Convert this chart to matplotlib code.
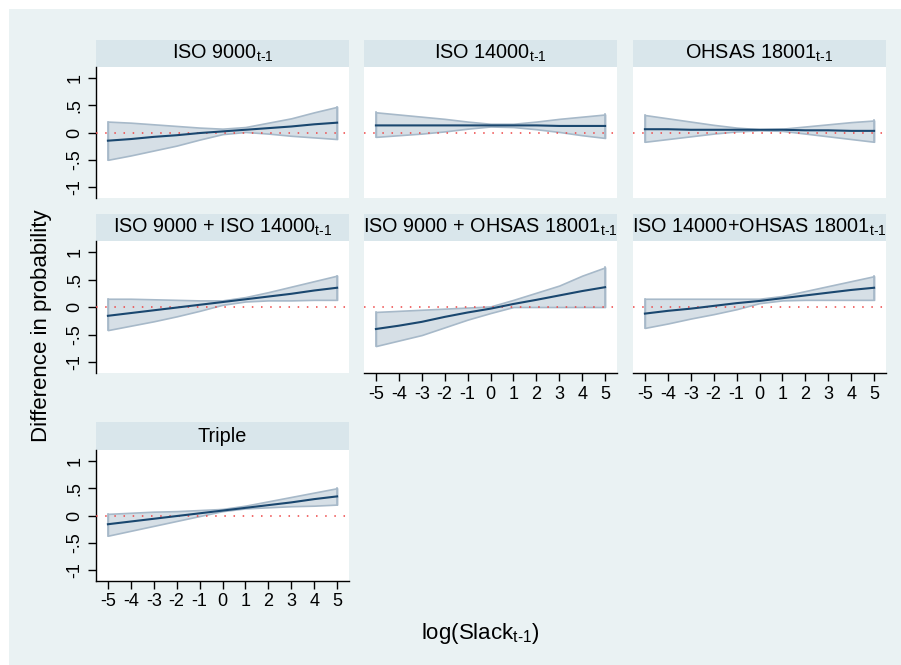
import matplotlib
matplotlib.use("Agg")
import matplotlib.pyplot as plt
from matplotlib.patches import Rectangle

plt.rcParams["font.family"] = ["Liberation Sans", "DejaVu Sans"]
plt.rcParams["mathtext.fontset"] = "custom"
plt.rcParams["mathtext.rm"] = "Liberation Sans"
plt.rcParams["mathtext.it"] = "Liberation Sans"

# log(Slack) grid
slack = [-5, -4, -3, -2, -1, 0, 1, 2, 3, 4, 5]

titles = [
    r"ISO 9000$_{\mathrm{t\text{-}1}}$",
    r"ISO 14000$_{\mathrm{t\text{-}1}}$",
    r"OHSAS 18001$_{\mathrm{t\text{-}1}}$",
    r"ISO 9000 + ISO 14000$_{\mathrm{t\text{-}1}}$",
    r"ISO 9000 + OHSAS 18001$_{\mathrm{t\text{-}1}}$",
    r"ISO 14000+OHSAS 18001$_{\mathrm{t\text{-}1}}$",
    "Triple",
]

# Estimated difference in probability and 95% CI bounds
est_iso9000 = [-0.15, -0.12, -0.08, -0.05, -0.01, 0.02, 0.05, 0.08, 0.11, 0.15, 0.18]
hi_iso9000 = [0.20, 0.18, 0.15, 0.12, 0.09, 0.07, 0.10, 0.18, 0.26, 0.37, 0.47]
lo_iso9000 = [-0.50, -0.42, -0.33, -0.24, -0.13, -0.03, 0.01, -0.02, -0.06, -0.09, -0.12]

est_iso14000 = [0.13, 0.13, 0.13, 0.13, 0.13, 0.13, 0.13, 0.13, 0.12, 0.12, 0.12]
hi_iso14000 = [0.37, 0.33, 0.29, 0.25, 0.20, 0.16, 0.16, 0.20, 0.25, 0.29, 0.33]
lo_iso14000 = [-0.08, -0.05, -0.02, 0.02, 0.07, 0.11, 0.10, 0.06, 0.01, -0.05, -0.10]

est_ohsas = [0.06, 0.06, 0.05, 0.05, 0.05, 0.05, 0.05, 0.04, 0.04, 0.03, 0.03]
hi_ohsas = [0.32, 0.26, 0.20, 0.14, 0.09, 0.06, 0.07, 0.11, 0.15, 0.19, 0.22]
lo_ohsas = [-0.17, -0.12, -0.07, -0.02, 0.02, 0.04, 0.03, -0.02, -0.07, -0.12, -0.17]

est_9000_14000 = [-0.16, -0.11, -0.06, -0.01, 0.04, 0.09, 0.14, 0.19, 0.24, 0.30, 0.35]
hi_9000_14000 = [0.15, 0.15, 0.14, 0.13, 0.12, 0.12, 0.18, 0.27, 0.37, 0.47, 0.57]
lo_9000_14000 = [-0.42, -0.34, -0.26, -0.17, -0.07, 0.04, 0.10, 0.12, 0.12, 0.13, 0.13]

est_9000_ohsas = [-0.40, -0.34, -0.27, -0.18, -0.10, -0.03, 0.055, 0.13, 0.21, 0.29, 0.36]
hi_9000_ohsas = [-0.09, -0.07, -0.05, -0.03, -0.01, 0.01, 0.13, 0.26, 0.39, 0.57, 0.72]
lo_9000_ohsas = [-0.71, -0.61, -0.51, -0.37, -0.23, -0.11, 0.0, 0.0, 0.0, 0.0, 0.0]

est_14000_ohsas = [-0.12, -0.07, -0.03, 0.02, 0.07, 0.11, 0.16, 0.21, 0.26, 0.31, 0.35]
hi_14000_ohsas = [0.15, 0.15, 0.15, 0.15, 0.15, 0.15, 0.20, 0.29, 0.38, 0.47, 0.56]
lo_14000_ohsas = [-0.38, -0.30, -0.21, -0.13, -0.04, 0.07, 0.12, 0.13, 0.13, 0.13, 0.13]

est_triple = [-0.16, -0.11, -0.06, -0.01, 0.04, 0.09, 0.14, 0.19, 0.24, 0.30, 0.35]
hi_triple = [0.03, 0.05, 0.07, 0.08, 0.10, 0.12, 0.18, 0.26, 0.34, 0.42, 0.50]
lo_triple = [-0.37, -0.28, -0.19, -0.10, -0.01, 0.08, 0.13, 0.15, 0.17, 0.18, 0.20]

series = [
    (est_iso9000, lo_iso9000, hi_iso9000),
    (est_iso14000, lo_iso14000, hi_iso14000),
    (est_ohsas, lo_ohsas, hi_ohsas),
    (est_9000_14000, lo_9000_14000, hi_9000_14000),
    (est_9000_ohsas, lo_9000_ohsas, hi_9000_ohsas),
    (est_14000_ohsas, lo_14000_ohsas, hi_14000_ohsas),
    (est_triple, lo_triple, hi_triple),
]

ytick_vals = [-1, -0.5, 0, 0.5, 1]
ytick_labels = ["-1", "-.5", "0", ".5", "1"]
xtick_vals = [-5, -4, -3, -2, -1, 0, 1, 2, 3, 4, 5]

W, H = 901, 665
BG = "#eaf2f3"
STRIP = "#d9e6eb"
LINE = "#1a476f"
FILL = "#d6dfe6"
EDGE = "#a7b9c9"

fig = plt.figure(figsize=(W / 100, H / 100), dpi=100, facecolor="white")
fig.patches.append(Rectangle((9 / W, 0), 1 - 9 / W, 1 - 9 / H,
                             transform=fig.transFigure, facecolor=BG,
                             edgecolor="none", zorder=-10))

cols = [(96, 349), (364, 617), (633, 886)]
rows = [((40, 67), (67, 198)), ((214, 241), (241, 373)), ((422, 450), (450, 581))]


def fbox(x0, x1, y0, y1):
    return [x0 / W, 1 - y1 / H, (x1 - x0) / W, (y1 - y0) / H]


bottom_panels = {4, 5, 6}
left_panels = {0, 3, 6}

for i, (title, (est, lo, hi)) in enumerate(zip(titles, series)):
    r, c = divmod(i, 3)
    (hy0, hy1), (py0, py1) = rows[r]
    x0, x1 = cols[c]

    hax = fig.add_axes(fbox(x0, x1, hy0, hy1))
    hax.set_facecolor(STRIP)
    hax.set_xticks([])
    hax.set_yticks([])
    for s in hax.spines.values():
        s.set_visible(False)
    hax.text(0.5, 0.5, title, ha="center", va="center", fontsize=14.3,
             transform=hax.transAxes)

    ax = fig.add_axes(fbox(x0, x1, py0, py1))
    ax.set_facecolor("white")
    ax.fill_between(slack, lo, hi, facecolor=FILL, edgecolor=EDGE,
                    linewidth=1.2, zorder=2)
    ax.plot([slack[0], slack[0]], [lo[0], hi[0]], color=EDGE, lw=1.2, zorder=2)
    ax.plot([slack[-1], slack[-1]], [lo[-1], hi[-1]], color=EDGE, lw=1.2, zorder=2)
    ax.axhline(0, color="#ee4444", lw=1.1, linestyle=(0, (1, 5)), zorder=3)
    ax.plot(slack, est, color=LINE, lw=1.5, zorder=4)
    ax.set_xlim(-5.52, 5.52)
    ax.set_ylim(-1.2, 1.2)

    for s in ("top", "right"):
        ax.spines[s].set_visible(False)

    if i in left_panels:
        ax.spines["left"].set_color("black")
        ax.spines["left"].set_linewidth(1.0)
        ax.set_yticks(ytick_vals)
        ax.set_yticklabels(ytick_labels, rotation=90, va="center", fontsize=13)
        ax.tick_params(axis="y", length=6, width=1.0, pad=3)
    else:
        ax.spines["left"].set_visible(False)
        ax.set_yticks([])

    if i in bottom_panels:
        ax.spines["bottom"].set_color("black")
        ax.spines["bottom"].set_linewidth(1.0)
        ax.set_xticks(xtick_vals)
        ax.set_xticklabels([str(v) for v in xtick_vals], fontsize=13)
        ax.tick_params(axis="x", length=6, width=1.0, pad=3)
    else:
        ax.spines["bottom"].set_visible(False)
        ax.set_xticks([])

fig.text(42 / W, 1 - 326 / H, "Difference in probability", rotation=90,
         ha="center", va="center", fontsize=16)
fig.text(480 / W, 1 - 633 / H, r"log(Slack$_{\mathrm{t\text{-}1}}$)",
         ha="center", va="center", fontsize=16)

fig.savefig("out.png", dpi=100, facecolor=fig.get_facecolor())
